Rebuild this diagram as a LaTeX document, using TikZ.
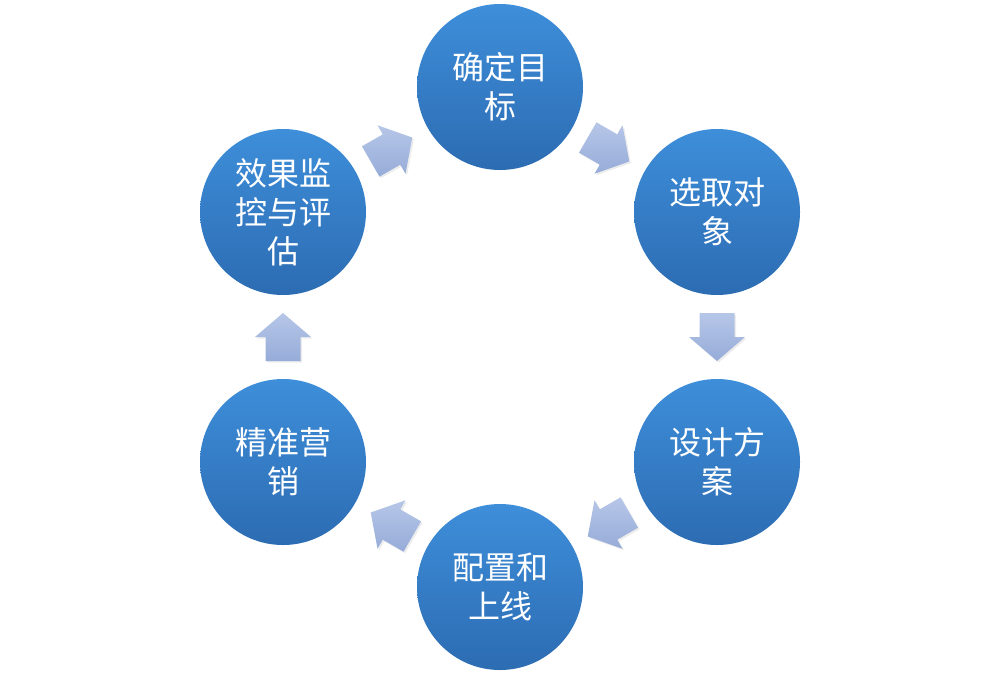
\documentclass[tikz,border=0pt]{standalone}
\usepackage{fontspec}
\newfontfamily\cjk{Noto Sans CJK SC}
\usetikzlibrary{calc,shadows}
\definecolor{circtop}{RGB}{62,142,218}
\definecolor{circbot}{RGB}{44,108,178}
\definecolor{arrtop}{RGB}{182,198,232}
\definecolor{arrbot}{RGB}{150,172,216}
\tikzset{
  circ/.style={circle, minimum size=83pt, inner sep=0pt, top color=circtop, bottom color=circbot,
    text=white, align=center, font=\cjk\fontsize{16}{19.5}\selectfont},
  blockarrow/.style={top color=arrtop, bottom color=arrbot, draw=none,
    drop shadow={opacity=0.15, shadow xshift=0.8pt, shadow yshift=-0.8pt}}
}
\newcommand{\blockarr}[3]{%
  \begin{scope}[shift={($(#1)!0.5!(#2)$)}, rotate=#3]
    \path[blockarrow] (-24,-17.5) -- (0,-17.5) -- (0,-28) -- (24,0) -- (0,28) -- (0,17.5) -- (-24,17.5) -- cycle;
  \end{scope}}
\begin{document}
\begin{tikzpicture}[x=0.5pt,y=0.5pt]
\useasboundingbox (0,0) rectangle (1000,-681);
\node[circ] (A) at (500,-87) {确定目\\标};
\node[circ] (B) at (717,-212) {选取对\\象};
\node[circ] (C) at (717,-462) {设计方\\案};
\node[circ] (D) at (500,-587) {配置和\\上线};
\node[circ] (E) at (283,-462) {精准营\\销};
\node[circ] (F) at (283,-212) {效果监\\控与评\\估};
\blockarr{A}{B}{-30}
\blockarr{B}{C}{-90}
\blockarr{C}{D}{-150}
\blockarr{D}{E}{150}
\blockarr{E}{F}{90}
\blockarr{F}{A}{30}
\end{tikzpicture}
\end{document}
